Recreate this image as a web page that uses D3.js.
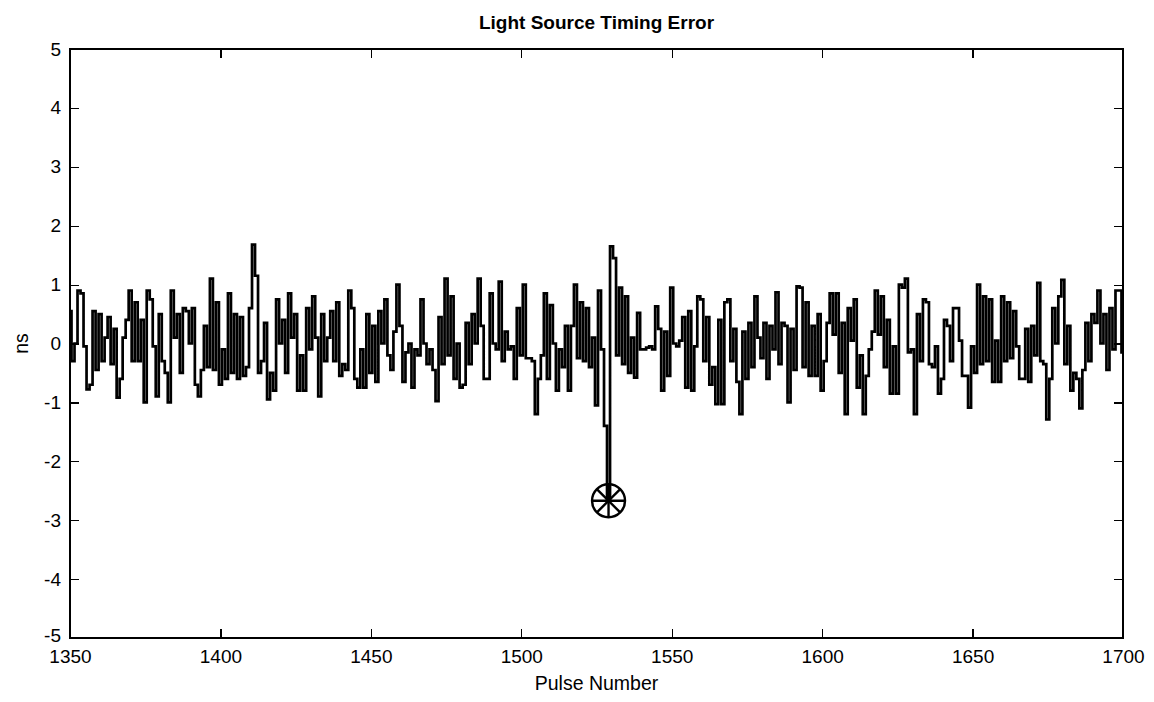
<!DOCTYPE html>
<html>
<head>
<meta charset="utf-8">
<script src="https://cdn.jsdelivr.net/npm/d3@7"></script>
<style>
  html, body { margin: 0; padding: 0; background: #fff; }
  svg { display: block; }
  text { font-family: "Liberation Sans", Arial, Helvetica, sans-serif; fill: #000; }
</style>
</head>
<body>
<svg id="chart" width="1154" height="702"></svg>
<script>
// ---------------- data ----------------
const chartTitle = "Light Source Timing Error";
const xLabel = "Pulse Number";
const yLabel = "ns";
const firstPulse = 1350;
const xTicks = [1350, 1400, 1450, 1500, 1550, 1600, 1650, 1700];
const yTicks = [-5, -4, -3, -2, -1, 0, 1, 2, 3, 4, 5];
const xDomain = [1350, 1700];
const yDomain = [-5, 5];

// timing error (ns) for pulses 1350..1700
const timingError = [
  0.55, -0.3, 0.0, 0.9, 0.85, -0.05, -0.78, -0.7, 0.55, -0.45, 0.5, -0.3, 0.1, 0.45, -0.35, 0.25,
  -0.92, -0.6, 0.1, 0.4, 0.9, -0.3, 0.7, -0.3, 0.4, -1.0, 0.9, 0.75, -0.05, -0.9, 0.5, -0.3,
  -0.5, -1.0, 0.9, 0.1, 0.5, -0.5, 0.6, 0.55, 0.0, 0.6, -0.7, -0.9, -0.45, 0.3, -0.4, 1.1,
  -0.45, 0.7, -0.7, -0.1, -0.6, 0.85, -0.5, 0.5, -0.6, 0.45, -0.55, -0.4, 0.6, 1.68, 1.15, -0.5,
  -0.3, 0.35, -0.95, -0.5, -0.8, 0.75, 0.0, 0.4, -0.5, 0.85, 0.1, 0.5, -0.8, -0.2, -0.8, 0.6,
  -0.1, 0.8, 0.1, -0.9, 0.5, -0.3, 0.1, 0.55, -0.3, 0.7, -0.55, -0.35, -0.45, 0.9, 0.6, -0.6,
  -0.75, -0.1, -0.75, 0.5, -0.5, 0.3, -0.65, 0.55, 0.0, 0.75, -0.2, -0.45, 0.2, 1.0, 0.3, -0.65,
  -0.15, 0.0, -0.75, -0.1, -0.2, 0.75, 0.0, -0.35, -0.1, -0.45, -0.98, 0.45, -0.35, 1.1, -0.2, 0.8,
  -0.6, 0.0, -0.75, -0.7, 0.35, -0.35, 0.5, 0.0, 1.1, 0.3, -0.6, -0.6, 0.85, 0.0, -0.1, 1.05,
  -0.3, 0.2, -0.1, -0.05, -0.6, 0.6, -0.2, 1.0, -0.25, -0.25, -0.3, -1.2, -0.6, -0.2, 0.85,
  -0.6, 0.65, 0.0, -0.8, -0.1, -0.4, 0.3, -0.8, 0.3, 1.0, -0.25, 0.7, -0.3, 0.6, -0.4, 0.1,
  -1.05, 0.9, -0.1, -1.4, -2.67, 1.65, 1.45, -0.2, 0.95, -0.35, 0.8, -0.5, 0.1, -0.58, 0.52, -0.1, -0.1,
  -0.07, -0.05, -0.1, 0.63, 0.25, -0.8, 0.2, -0.55, 0.95, 0.0, -0.05, 0.05, 0.45, -0.75, 0.55, -0.8,
  -0.05, 0.8, 0.75, -0.3, 0.45, -0.7, -0.4, -1.03, 0.4, -1.03, 0.7, 0.75, -0.3, 0.25, -0.65, -1.2,
  0.2, -0.6, 0.35, -0.4, 0.8, 0.1, -0.25, 0.35, -0.6, 0.3, -0.1, 0.87, -0.35, 0.35, 0.3, -1.0,
  0.25, -0.45, 0.97, 0.95, -0.4, 0.7, -0.55, 0.3, -0.55, 0.5, -0.8, -0.3, 0.35, 0.85, 0.15, 0.85,
  -0.5, 0.35, -1.2, 0.6, 0.05, 0.75, -0.75, -0.2, -1.2, -0.55, -0.1, 0.2, 0.9, 0.15, 0.8, -0.4,
  0.4, -0.85, -0.05, -0.85, 1.0, 0.95, 1.1, -0.15, -0.1, -1.2, 0.5, -0.3, 0.75, 0.7, -0.35, -0.4,
  -0.05, -0.85, -0.6, 0.4, 0.3, -0.3, 0.6, 0.6, 0.05, -0.55, -0.55, -1.09, -0.05, -0.5, 1.0, -0.35,
  0.8, -0.3, 0.75, -0.65, 0.05, -0.65, 0.8, -0.3, 0.7, -0.25, 0.55, -0.05, -0.6, -0.6, 0.25, -0.65,
  0.3, -0.2, 1.03, -0.3, -0.35, -1.29, -0.6, 0.6, 0.0, 0.8, 1.08, -0.35, 0.3, -0.8, -0.5, -0.6,
  -1.1, -0.45, 0.35, -0.3, 0.5, 0.35, 0.9, 0.0, 0.5, -0.45, 0.6, -0.1, 0.9, 0.9, -0.15
];

// flagged outlier
const outlierPulse = [1529];
const outlierValue = [-2.67];

// ---------------- layout ----------------
const W = 1154, H = 702;
const plot = { left: 70, right: 1123, top: 49, bottom: 638 };
const tickLen = 9;
const fontSize = 19;

const svg = d3.select("#chart");
const x = d3.scaleLinear().domain(xDomain).range([plot.left, plot.right]);
const y = d3.scaleLinear().domain(yDomain).range([plot.bottom, plot.top]);

const data = timingError.map((v, i) => ({ p: firstPulse + i, v }));

// data line (clipped to axes)
svg.append("clipPath").attr("id", "clip")
  .append("rect").attr("x", plot.left).attr("y", plot.top)
  .attr("width", plot.right - plot.left).attr("height", plot.bottom - plot.top);

const line = d3.line().x(d => x(d.p)).y(d => y(d.v)).curve(d3.curveStep);
svg.append("path")
  .datum(data)
  .attr("clip-path", "url(#clip)")
  .attr("fill", "none")
  .attr("stroke", "#000")
  .attr("stroke-width", 2.7)
  .attr("stroke-linejoin", "miter")
  .attr("d", line);

// outlier marker: circle + asterisk
const mk = svg.append("g");
outlierPulse.forEach((p, i) => {
  const cx = x(p), cy = y(outlierValue[i]);
  const r = 16.5;
  mk.append("circle").attr("cx", cx).attr("cy", cy).attr("r", r)
    .attr("fill", "none").attr("stroke", "#000").attr("stroke-width", 2.4);
  [0, 45, 90, 135].forEach(a => {
    const rad = a * Math.PI / 180;
    const dx = Math.cos(rad) * r, dy = Math.sin(rad) * r;
    mk.append("line").attr("x1", cx - dx).attr("y1", cy - dy)
      .attr("x2", cx + dx).attr("y2", cy + dy)
      .attr("stroke", "#000").attr("stroke-width", 2.4);
  });
});

// axes box
const ax = svg.append("g");
ax.append("rect")
  .attr("x", plot.left).attr("y", plot.top)
  .attr("width", plot.right - plot.left).attr("height", plot.bottom - plot.top)
  .attr("fill", "none").attr("stroke", "#000").attr("stroke-width", 1.2)
  .attr("shape-rendering", "crispEdges");

// bottom axis (inward ticks)
const bottomAxis = d3.axisBottom(x).tickValues(xTicks).tickFormat(d3.format("d"))
  .tickSizeInner(-tickLen).tickSizeOuter(0).tickPadding(12);
const gb = ax.append("g").attr("transform", `translate(0,${plot.bottom})`).call(bottomAxis);
// top axis ticks
const topAxis = d3.axisTop(x).tickValues(xTicks).tickFormat("")
  .tickSizeInner(-tickLen).tickSizeOuter(0);
const gt = ax.append("g").attr("transform", `translate(0,${plot.top})`).call(topAxis);
// left axis
const leftAxis = d3.axisLeft(y).tickValues(yTicks).tickFormat(d3.format("d"))
  .tickSizeInner(-tickLen).tickSizeOuter(0).tickPadding(9);
const gl = ax.append("g").attr("transform", `translate(${plot.left},0)`).call(leftAxis);
// right axis ticks
const rightAxis = d3.axisRight(y).tickValues(yTicks).tickFormat("")
  .tickSizeInner(-tickLen).tickSizeOuter(0);
const gr = ax.append("g").attr("transform", `translate(${plot.right},0)`).call(rightAxis);

[gb, gt, gl, gr].forEach(g => {
  g.select(".domain").remove();
  g.selectAll(".tick line").attr("stroke", "#000").attr("stroke-width", 1.2)
    .attr("shape-rendering", "crispEdges");
  g.selectAll(".tick text")
    .style("font-family", '"Liberation Sans", Arial, sans-serif')
    .style("font-size", fontSize + "px").attr("fill", "#000");
});
gl.selectAll(".tick text").text(d => d < 0 ? "-" + Math.abs(d) : String(d));
// nudge the bottom-most y label up slightly so it clears the x tick labels
gl.selectAll(".tick text").filter(d => d === yDomain[0]).attr("dy", "0.2em");

// title and labels
svg.append("text")
  .attr("x", (plot.left + plot.right) / 2).attr("y", 29)
  .attr("text-anchor", "middle")
  .style("font-size", "19px").style("font-weight", "bold")
  .text(chartTitle);

svg.append("text")
  .attr("x", (plot.left + plot.right) / 2).attr("y", 690)
  .attr("text-anchor", "middle")
  .style("font-size", "19.5px")
  .text(xLabel);

svg.append("text")
  .attr("transform", `translate(28,${(plot.top + plot.bottom) / 2}) rotate(-90)`)
  .attr("text-anchor", "middle")
  .style("font-size", "19.5px")
  .text(yLabel);
</script>
</body>
</html>
